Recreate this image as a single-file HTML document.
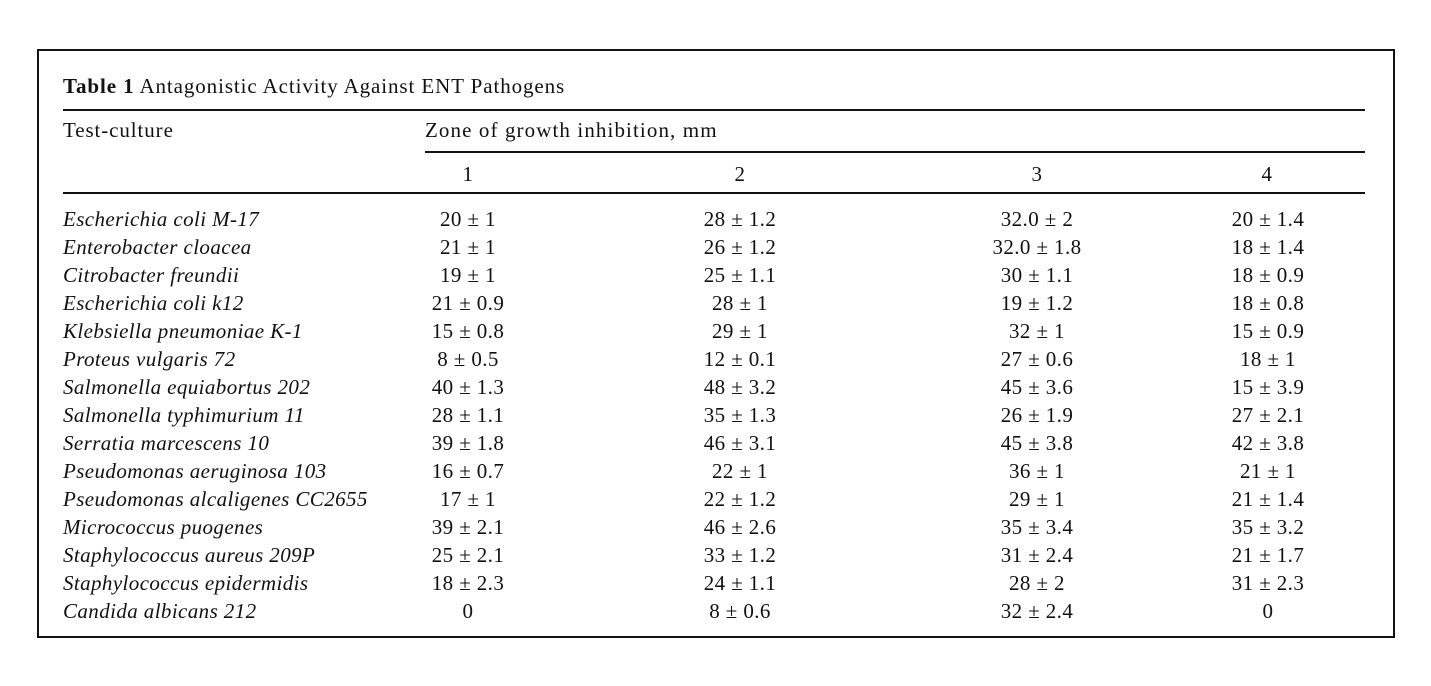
<!DOCTYPE html>
<html><head><meta charset="utf-8"><style>
body{margin:0;width:1431px;height:686px;background:#fff;position:relative;font-family:"Liberation Serif",serif;color:#111;}
.box{position:absolute;left:37px;top:49px;width:1354px;height:585px;border:2px solid #111;}
.t{position:absolute;font-size:21px;line-height:24px;white-space:nowrap;letter-spacing:0.4px;}
.c{transform:translateX(-50%);}
.i{font-style:italic;}
.hr{position:absolute;height:1.5px;background:#111;}
</style></head><body>
<div class="box"></div>
<div class="t" style="left:63px;top:74px;letter-spacing:0.9px"><b>Table 1</b> Antagonistic Activity Against ENT Pathogens</div>
<div class="hr" style="left:63px;top:109px;width:1302px"></div>
<div class="t" style="left:63px;top:118px;letter-spacing:0.9px">Test-culture</div>
<div class="t" style="left:425px;top:118px;letter-spacing:1.1px">Zone of growth inhibition, mm</div>
<div class="hr" style="left:425px;top:151px;width:940px"></div>
<div class="t c" style="left:468px;top:162px">1</div>
<div class="t c" style="left:740px;top:162px">2</div>
<div class="t c" style="left:1037px;top:162px">3</div>
<div class="t c" style="left:1267px;top:162px">4</div>
<div class="hr" style="left:63px;top:192px;width:1302px"></div>
<div id="rows"></div>
<script>
const names=["Escherichia coli M-17","Enterobacter cloacea","Citrobacter freundii","Escherichia coli k12","Klebsiella pneumoniae K-1","Proteus vulgaris 72","Salmonella equiabortus 202","Salmonella typhimurium 11","Serratia marcescens 10","Pseudomonas aeruginosa 103","Pseudomonas alcaligenes CC2655","Micrococcus puogenes","Staphylococcus aureus 209P","Staphylococcus epidermidis","Candida albicans 212"];
const col1=["20 ± 1","21 ± 1","19 ± 1","21 ± 0.9","15 ± 0.8","8 ± 0.5","40 ± 1.3","28 ± 1.1","39 ± 1.8","16 ± 0.7","17 ± 1","39 ± 2.1","25 ± 2.1","18 ± 2.3","0"];
const col2=["28 ± 1.2","26 ± 1.2","25 ± 1.1","28 ± 1","29 ± 1","12 ± 0.1","48 ± 3.2","35 ± 1.3","46 ± 3.1","22 ± 1","22 ± 1.2","46 ± 2.6","33 ± 1.2","24 ± 1.1","8 ± 0.6"];
const col3=["32.0 ± 2","32.0 ± 1.8","30 ± 1.1","19 ± 1.2","32 ± 1","27 ± 0.6","45 ± 3.6","26 ± 1.9","45 ± 3.8","36 ± 1","29 ± 1","35 ± 3.4","31 ± 2.4","28 ± 2","32 ± 2.4"];
const col4=["20 ± 1.4","18 ± 1.4","18 ± 0.9","18 ± 0.8","15 ± 0.9","18 ± 1","15 ± 3.9","27 ± 2.1","42 ± 3.8","21 ± 1","21 ± 1.4","35 ± 3.2","21 ± 1.7","31 ± 2.3","0"];
const root=document.getElementById('rows');
const cols=[[col1,468],[col2,740],[col3,1037],[col4,1268]];
names.forEach((n,r)=>{
  const top=207+r*28;
  const d=document.createElement('div');
  d.className='t i';d.style.left='63px';d.style.top=top+'px';d.textContent=n;
  
  
  root.appendChild(d);
  cols.forEach(([arr,x],ci)=>{
    const e=document.createElement('div');
    e.className='t c';e.style.left=x+'px';e.style.top=top+'px';e.textContent=arr[r];
    
    
    root.appendChild(e);
  });
});
</script>
</body></html>
